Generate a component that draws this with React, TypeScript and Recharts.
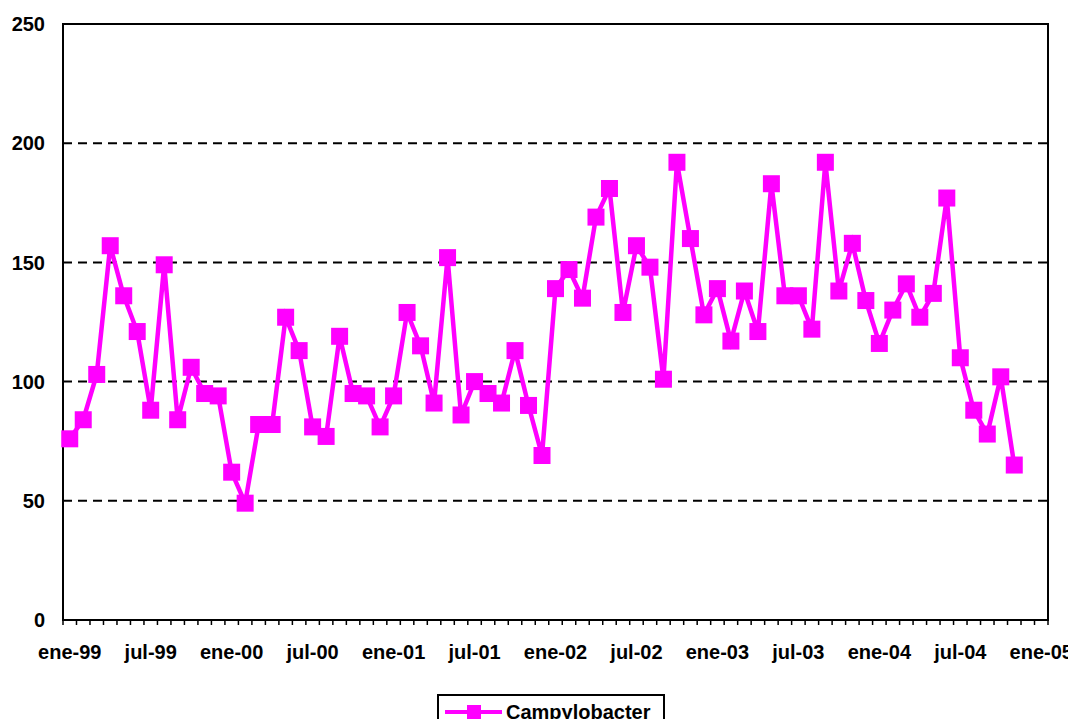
import React from "react";
import { LineChart, Line, XAxis, YAxis, CartesianGrid, Legend, ReferenceArea } from "recharts";

// categories: ene-99 .. ene-05 (73 months)
const MONTH_NAMES = ["ene", "feb", "mar", "abr", "may", "jun", "jul", "ago", "sep", "oct", "nov", "dic"];
const YEARS = ["99", "00", "01", "02", "03", "04", "05"];

const months: string[] = [];
YEARS.forEach((yy, yi) => {
  MONTH_NAMES.forEach((m, mi) => {
    if (yi < YEARS.length - 1 || mi === 0) months.push(`${m}-${yy}`);
  });
});

// monthly Campylobacter cases, ene-99 .. nov-04
const campylobacter = [
  76, 84, 103, 157, 136, 121, 88, 149, 84, 106, 95, 94,
  62, 49, 82, 82, 127, 113, 81, 77, 119, 95, 94, 81,
  94, 129, 115, 91, 152, 86, 100, 95, 91, 113, 90, 69,
  139, 147, 135, 169, 181, 129, 157, 148, 101, 192, 160, 128,
  139, 117, 138, 121, 183, 136, 136, 122, 192, 138, 158, 134,
  116, 130, 141, 127, 137, 177, 110, 88, 78, 102, 65,
];

const yTicks = [0, 50, 100, 150, 200, 250];
const labelEvery = 6;

const data = months.map((month, i) => ({ month, cases: campylobacter[i] }));

const MAGENTA = "#FF00FF";
const FONT = "'Liberation Sans', Arial, sans-serif";
const CHART_W = 1068;
const CHART_H = 719;
const MARGIN = { top: 16, right: 28, left: 0, bottom: 17 };
const Y_AXIS_W = 55;
const BAND = (CHART_W - MARGIN.left - MARGIN.right - Y_AXIS_W) / months.length;

const MonthTick = (props: any) => {
  const { x, y, payload, index } = props;
  const left = x - BAND / 2;
  return (
    <g>
      <line x1={left} x2={left} y1={y - 5} y2={y} stroke="#000" strokeWidth={1.5} />
      {index === months.length - 1 && (
        <line x1={left + BAND} x2={left + BAND} y1={y - 5} y2={y} stroke="#000" strokeWidth={1.5} />
      )}
      {index % labelEvery === 0 && (
        <text x={x} y={y + 34} textAnchor="middle" fontFamily={FONT} fontWeight="bold" fontSize={20} fill="#000">
          {payload.value}
        </text>
      )}
    </g>
  );
};

const SquareDot = (props: any) => {
  const { cx, cy, index } = props;
  if (cx == null || cy == null) return <g key={`dot-${index}`} />;
  return <rect key={`dot-${index}`} x={cx - 8.5} y={cy - 8.5} width={17} height={17} fill={MAGENTA} />;
};

const LegendBox = () => (
  <div
    style={{
      width: 228,
      height: 40,
      boxSizing: "border-box",
      border: "2px solid #000",
      background: "#fff",
      display: "flex",
      alignItems: "flex-start",
      paddingTop: 4,
      paddingLeft: 5,
    }}
  >
    <svg width={62} height={24} style={{ display: "block" }}>
      <line x1={1} x2={58} y1={12} y2={12} stroke={MAGENTA} strokeWidth={4} />
      <rect x={23} y={5} width={14} height={14} fill={MAGENTA} />
    </svg>
    <span style={{ fontFamily: FONT, fontWeight: "bold", fontSize: 20, lineHeight: "24px", color: "#000" }}>
      Campylobacter
    </span>
  </div>
);

export default function App() {
  return (
    <div style={{ width: CHART_W, height: CHART_H, overflow: "hidden", position: "relative", marginBottom: -8 }}>
      <LineChart width={CHART_W} height={CHART_H} data={data} margin={MARGIN}>
        <CartesianGrid vertical={false} stroke="#000" strokeWidth={2} strokeDasharray="9 6" />
        <XAxis
          dataKey="month"
          scale="band"
          interval={0}
          height={50}
          axisLine={{ stroke: "#000", strokeWidth: 2 }}
          tickLine={false}
          tickSize={5}
          tickMargin={0}
          tick={<MonthTick />}
        />
        <YAxis
          domain={[0, 250]}
          ticks={yTicks}
          width={Y_AXIS_W}
          axisLine={{ stroke: "#000", strokeWidth: 2 }}
          tickLine={false}
          tickSize={10}
          tickMargin={8}
          tick={{ fill: "#000", fontFamily: FONT, fontWeight: "bold", fontSize: 20 }}
        />
        <ReferenceArea y1={0} y2={250} fill="#fff" fillOpacity={0} stroke="#000" strokeWidth={2} />
        <Legend
          verticalAlign="bottom"
          content={<LegendBox />}
          wrapperStyle={{ top: 686, left: 429, width: 228, height: 40 }}
        />
        <Line
          type="linear"
          dataKey="cases"
          name="Campylobacter"
          stroke={MAGENTA}
          strokeWidth={4.5}
          dot={SquareDot}
          activeDot={false}
          isAnimationActive={false}
        />
      </LineChart>
    </div>
  );
}
